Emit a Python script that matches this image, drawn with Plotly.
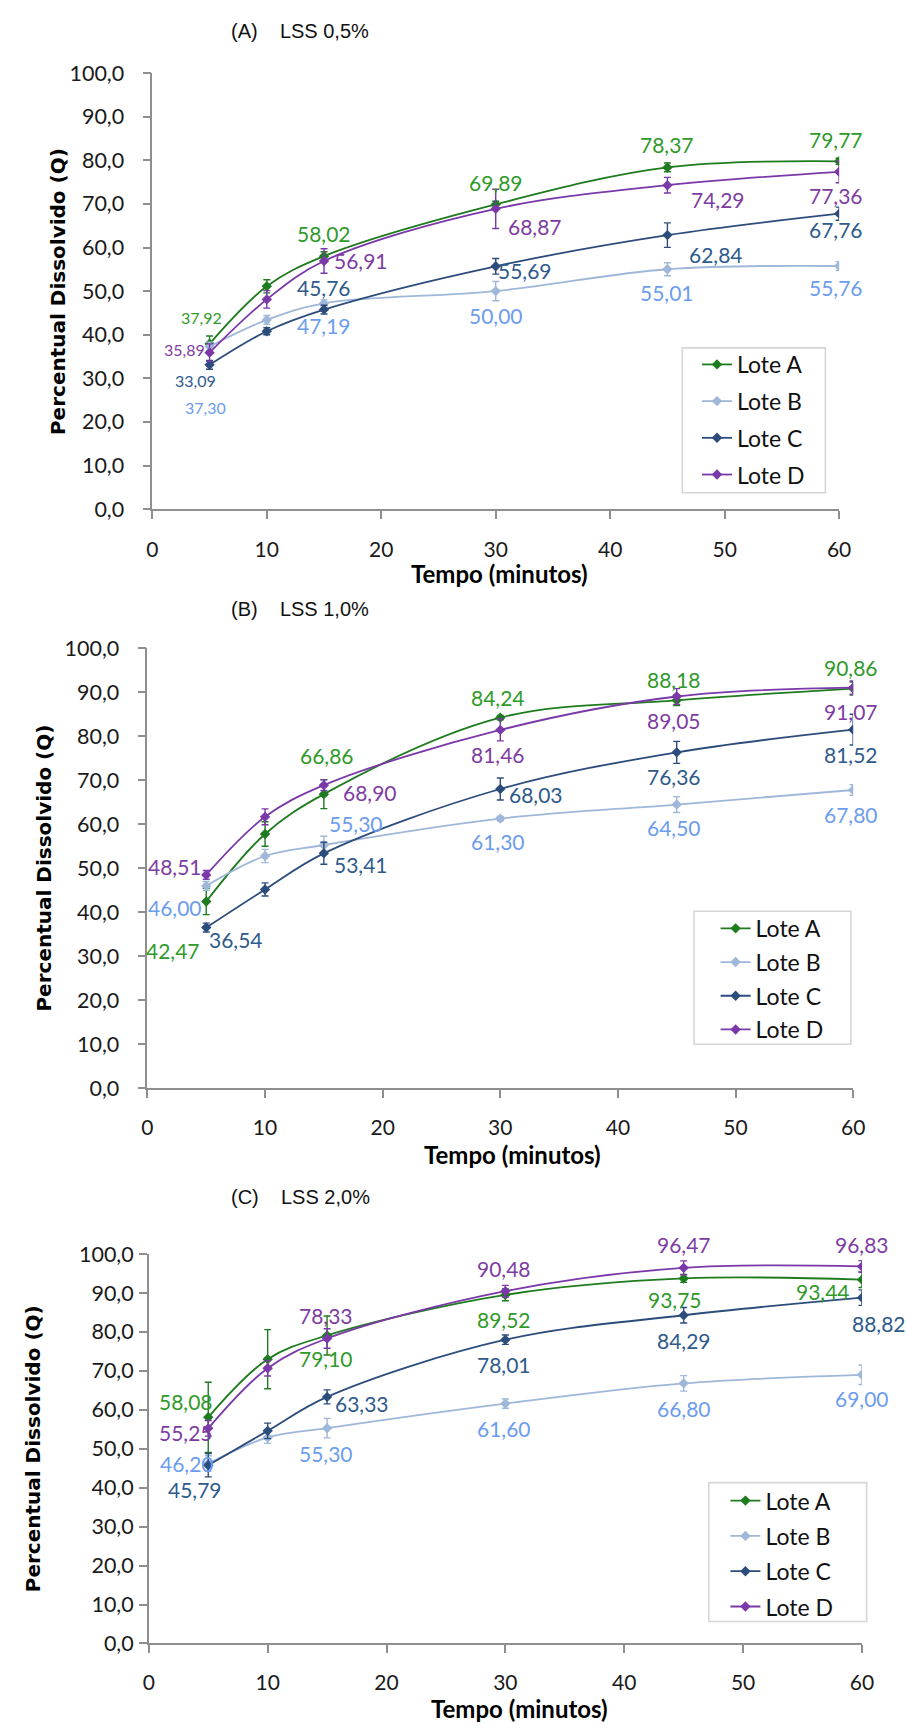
import plotly.graph_objects as go

W, H = 906, 1733

# ---------------- data ----------------
TIME = [5, 10, 15, 30, 45, 60]
LABELED = [True, False, True, True, True, True]
SERIES = ["Lote A", "Lote B", "Lote C", "Lote D"]
X_TICKS = [0, 10, 20, 30, 40, 50, 60]
Y_TICKS = [0, 10, 20, 30, 40, 50, 60, 70, 80, 90, 100]
Y_TICK_LABELS = ["0,0", "10,0", "20,0", "30,0", "40,0", "50,0",
                 "60,0", "70,0", "80,0", "90,0", "100,0"]
PANEL_TITLES = ["(A)\u00a0\u00a0\u00a0 LSS 0,5%", "(B)\u00a0\u00a0\u00a0 LSS 1,0%", "(C)\u00a0\u00a0\u00a0 LSS 2,0%"]
X_TITLE = "Tempo (minutos)"
Y_TITLE = "Percentual Dissolvido (Q)"

# Panel A - LSS 0,5%
lss05_lote_a = [37.92, 51.1, 58.02, 69.89, 78.37, 79.77]
lss05_lote_b = [37.30, 43.4, 47.19, 50.00, 55.01, 55.76]
lss05_lote_c = [33.09, 40.8, 45.76, 55.69, 62.84, 67.76]
lss05_lote_d = [35.89, 48.1, 56.91, 68.87, 74.29, 77.36]
lss05_err_a = [1.8, 1.5, 1.0, 0.7, 1.0, 0.7]
lss05_err_b = [1.0, 1.0, 0.8, 2.2, 1.5, 1.0]
lss05_err_c = [1.0, 0.8, 1.0, 1.8, 2.8, 1.5]
lss05_err_d = [2.0, 2.0, 2.8, 4.5, 1.8, 2.5]

# Panel B - LSS 1,0%
lss10_lote_a = [42.47, 57.8, 66.86, 84.24, 88.18, 90.86]
lss10_lote_b = [46.00, 52.8, 55.30, 61.30, 64.50, 67.80]
lss10_lote_c = [36.54, 45.2, 53.41, 68.03, 76.36, 81.52]
lss10_lote_d = [48.51, 61.7, 68.90, 81.46, 89.05, 91.07]
lss10_err_a = [3.0, 2.8, 3.3, 0.5, 1.2, 1.5]
lss10_err_b = [1.0, 1.5, 2.0, 0.5, 1.8, 1.2]
lss10_err_c = [1.0, 1.5, 2.5, 2.5, 2.5, 3.5]
lss10_err_d = [1.0, 1.8, 1.2, 2.5, 1.8, 1.5]

# Panel C - LSS 2,0%
lss20_lote_a = [58.08, 73.0, 79.10, 89.52, 93.75, 93.44]
lss20_lote_b = [46.20, 52.9, 55.30, 61.60, 66.80, 69.00]
lss20_lote_c = [45.79, 54.6, 63.33, 78.01, 84.29, 88.82]
lss20_lote_d = [55.25, 70.7, 78.33, 90.48, 96.47, 96.83]
lss20_err_a = [9.0, 7.6, 5.0, 1.5, 1.0, 2.0]
lss20_err_b = [2.0, 1.5, 2.5, 1.2, 2.0, 2.5]
lss20_err_c = [3.0, 2.0, 1.8, 1.2, 2.0, 2.0]
lss20_err_d = [2.0, 2.0, 2.5, 1.5, 1.8, 1.5]

PANEL_VALUES = [
    [lss05_lote_a, lss05_lote_b, lss05_lote_c, lss05_lote_d],
    [lss10_lote_a, lss10_lote_b, lss10_lote_c, lss10_lote_d],
    [lss20_lote_a, lss20_lote_b, lss20_lote_c, lss20_lote_d],
]
PANEL_ERRORS = [
    [lss05_err_a, lss05_err_b, lss05_err_c, lss05_err_d],
    [lss10_err_a, lss10_err_b, lss10_err_c, lss10_err_d],
    [lss20_err_a, lss20_err_b, lss20_err_c, lss20_err_d],
]

# ---------------- styles / placement ----------------
LINE_COLORS = ["#1E7B1E", "#9FB7D9", "#2C4D7C", "#7A38A8"]
LABEL_COLORS = ["#2F9A2A", "#6C9CEE", "#2E5A8C", "#7E3CA2"]

# data label offsets in screen pixels (dx, dy: +dy = downwards); None = 10 min (unlabeled)
LABEL_OFFSETS = [
    [  # panel A
        [(-8, -26), None, (0, -23), (0, -22), (0, -23), (-3, -22)],
        [(-4, 61), None, (0, 22), (0, 24), (0, 23), (-3, 22)],
        [(-14, 16), None, (0, -22), (29, 4), (49, 19), (-3, 16)],
        [(-25, -3), None, (37, 0), (39, 18), (51, 14), (-3, 24)],
    ],
    [  # panel B
        [(-33, 49), None, (3, -39), (-2, -20), (-3, -21), (-2, -21)],
        [(-31, 22), None, (32, -22), (-2, 23), (-3, 23), (-2, 24)],
        [(30, 12), None, (37, 11), (36, 6), (-3, 24), (-2, 25)],
        [(-31, -8), None, (46, 7), (-2, 25), (-3, 24), (-2, 24)],
    ],
    [  # panel C
        [(-22, -16), None, (-1, 23), (-1, 25), (-9, 21), (-39, 12)],
        [(-21, 0), None, (-1, 25), (-1, 25), (0, 25), (0, 24)],
        [(-13, 24), None, (35, 7), (-1, 25), (0, 25), (17, 26)],
        [(-22, 4), None, (-1, -23), (-1, -23), (0, -23), (0, -22)],
    ],
]

# panel geometry in pixels: (x_left, x_right, y_top, y_bottom)
PANELS = [(149.3, 850.0, 61.0, 503.7),
          (144.3, 864.3, 645.0, 1091.7),
          (145.7, 873.3, 1260.0, 1655.3)]
TITLE_POS = [(228, 18), (228, 605), (228, 1202)]
YTITLE_X = [53, 39, 27]
XTITLE_POS = [(503, 569), (517, 1159), (524, 1721)]
# legend frame (x0, y0, x1, y1) and the entries' left edge
LEGEND_BOX = [(690, 340, 836, 487), (702, 912, 862, 1047), (717, 1492, 878, 1633)]
LEGEND_X = [705, 724, 734]
LEGEND_TOP_SHIFT = [5, 4.5, 3.5]
LEGEND_GAP = [3.8, 0.8, 2.4]
XTICK_STANDOFF = [13, 12, 12]
YTICK_STANDOFF = [14, 14, 1]

FONT = "Lato"
AXIS_COLOR = "#8E8E8E"


def px(x):
    return x / W


def py(y):
    return 1 - y / H


def fmt(v):
    return f"{v:.2f}".replace(".", ",")


fig = go.Figure()
annotations = []
shapes = []
layout = {}

for p in range(3):
    xl, xr, yt, yb = PANELS[p]
    sfx = "" if p == 0 else str(p + 1)
    xref, yref = "x" + sfx, "y" + sfx
    legend_name = "legend" + sfx

    layout["xaxis" + sfx] = dict(
        domain=[px(xl), px(xr)], anchor=yref, range=[0, 60],
        tickvals=X_TICKS, ticktext=[str(t) for t in X_TICKS],
        showline=True, linecolor=AXIS_COLOR, linewidth=1.6,
        ticks="outside", ticklen=8, tickwidth=1.6, tickcolor=AXIS_COLOR,
        showgrid=False, zeroline=False,
        tickfont=dict(family=FONT, size=21, color="#1A1A1A"),
        ticklabelstandoff=XTICK_STANDOFF[p],
    )
    layout["yaxis" + sfx] = dict(
        domain=[py(yb), py(yt)], anchor=xref, range=[0, 100],
        tickvals=Y_TICKS, ticktext=Y_TICK_LABELS,
        showline=True, linecolor=AXIS_COLOR, linewidth=1.6,
        ticks="outside", ticklen=8, tickwidth=1.6, tickcolor=AXIS_COLOR,
        showgrid=False, zeroline=False,
        tickfont=dict(family=FONT, size=21.5, color="#1A1A1A"),
        ticklabelstandoff=YTICK_STANDOFF[p],
    )
    bx0, by0, bx1, by1 = LEGEND_BOX[p]
    shapes.append(dict(
        type="rect", xref="paper", yref="paper",
        x0=px(bx0), x1=px(bx1), y0=py(by1), y1=py(by0),
        line=dict(color="#D6D6D6", width=1.6), fillcolor="white", layer="below",
    ))
    layout[legend_name] = dict(
        x=px(LEGEND_X[p]), y=py(by0 - LEGEND_TOP_SHIFT[p]), xanchor="left", yanchor="top",
        bgcolor="rgba(0,0,0,0)", borderwidth=0,
        font=dict(family=FONT, size=23, color="#111111"),
        itemwidth=30, tracegroupgap=LEGEND_GAP[p], traceorder="grouped",
    )

    for s in range(4):
        vals = PANEL_VALUES[p][s]
        errs = PANEL_ERRORS[p][s]
        fig.add_trace(go.Scatter(
            x=TIME, y=vals, name=SERIES[s], mode="lines+markers",
            xaxis=xref, yaxis=yref, legend=legend_name,
            legendgroup=f"{p}-{s}",
            line=dict(color=LINE_COLORS[s], width=1.8, shape="spline", smoothing=1.0),
            marker=dict(symbol="diamond", size=8, color=LINE_COLORS[s]),
            error_y=dict(type="data", array=errs, visible=True,
                         color=LINE_COLORS[s], thickness=1.4, width=3.5),
        ))
        for i, t in enumerate(TIME):
            if not LABELED[i]:
                continue
            dx, dy = LABEL_OFFSETS[p][s][i]
            size = 16 if (p == 0 and i == 0) else 21
            annotations.append(dict(
                x=t, y=vals[i], xref=xref, yref=yref, text=fmt(vals[i]),
                showarrow=False, xshift=dx, yshift=-dy,
                xanchor="center", yanchor="middle",
                font=dict(family=FONT, size=size, color=LABEL_COLORS[s]),
            ))

    tx, ty = TITLE_POS[p]
    annotations.append(dict(
        x=px(tx), y=py(ty), xref="paper", yref="paper", text=PANEL_TITLES[p],
        showarrow=False, xanchor="left", yanchor="middle",
        font=dict(family="Liberation Sans", size=20, color="#111111"),
    ))
    annotations.append(dict(
        x=px(YTITLE_X[p]), y=py((yt + yb) / 2), xref="paper", yref="paper",
        text=Y_TITLE, textangle=-90, showarrow=False,
        xanchor="center", yanchor="middle",
        font=dict(family="DejaVu Sans", size=20, color="#000000", weight="bold"),
    ))
    xtx, xty = XTITLE_POS[p]
    annotations.append(dict(
        x=px(xtx), y=py(xty), xref="paper", yref="paper", text=X_TITLE,
        showarrow=False, xanchor="center", yanchor="middle",
        font=dict(family=FONT, size=24, color="#000000", weight="bold"),
    ))

fig.update_layout(
    width=W, height=H, margin=dict(l=0, r=0, t=0, b=0),
    paper_bgcolor="white", plot_bgcolor="white",
    showlegend=True, annotations=annotations, shapes=shapes, **layout,
)

fig.write_html("out.html")
